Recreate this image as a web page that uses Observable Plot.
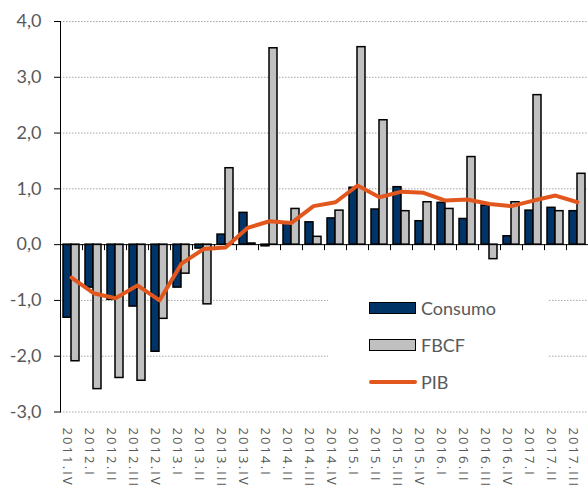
<!DOCTYPE html>
<html><head><meta charset="utf-8">
<script src="https://cdn.jsdelivr.net/npm/d3@7"></script>
<script src="https://cdn.jsdelivr.net/npm/@observablehq/plot@0.6"></script>
<style>
html,body{margin:0;padding:0;background:#fff;overflow:hidden}
#wrap{position:relative;width:588px;height:489px}
#legend{position:absolute;left:328px;top:286px;width:220px;height:118px;background:#fff;font-family:Lato,sans-serif;font-size:18px;color:#595959}
.item{position:absolute;left:41px;display:flex;align-items:center;height:20px;white-space:nowrap}
.sw{width:45px;height:10px;border:1.5px solid #000;margin-right:5px}
.ln{width:48px;height:4px;border-radius:2px;margin-right:4px}
g[aria-label="x-axis tick label"] text{letter-spacing:2.1px;font-family:"Open Sans",sans-serif}
</style></head>
<body><div id="wrap"><div id="chart"></div><div id="legend"></div></div>
<script>
const quarters = ["2011.IV","2012.I","2012.II","2012.III","2012.IV","2013.I","2013.II","2013.III","2013.IV","2014.I","2014.II","2014.III","2014.IV","2015.I","2015.II","2015.III","2015.IV","2016.I","2016.II","2016.III","2016.IV","2017.I","2017.II","2017.III"];
const consumo = [-1.31,-0.77,-0.99,-1.11,-1.92,-0.77,-0.07,0.18,0.57,-0.03,0.38,0.40,0.47,1.02,0.63,1.03,0.42,0.75,0.46,0.70,0.15,0.61,0.66,0.60];
const fbcf = [-2.09,-2.59,-2.39,-2.44,-1.33,-0.52,-1.07,1.37,0.02,3.52,0.64,0.14,0.61,3.54,2.23,0.60,0.76,0.64,1.57,-0.26,0.76,2.68,0.60,1.27];
const pib = [-0.59,-0.87,-0.96,-0.73,-1.00,-0.34,-0.08,-0.05,0.30,0.42,0.39,0.69,0.76,1.06,0.85,0.95,0.93,0.79,0.81,0.73,0.69,0.79,0.88,0.76];
const seriesNames = ["Consumo","FBCF","PIB"];
const seriesColors = ["#003366","#c0c0c0","#E2571E"];
const yTicks = [-3,-2,-1,0,1,2,3,4];

const rows = quarters.map((q,i)=>({q, consumo: consumo[i], fbcf: fbcf[i], pib: pib[i]}));
const fmt = d => d3.format(".1f")(d).replace(".",",").replace("\u2212","-");

const chart = Plot.plot({
  width:588, height:489, marginLeft:60, marginRight:0, marginTop:21, marginBottom:77.5,
  style:{fontFamily:"Lato, sans-serif", background:"#fff"},
  x:{domain:quarters, padding:0, label:null},
  y:{domain:[-3,4], label:null},
  marks:[
    Plot.ruleY(yTicks.filter(d=>d!==0), {stroke:"#a6a6a6", strokeDasharray:"1.5,1.5"}),
    Plot.barY(rows, {x:"q", y:"consumo", fill:seriesColors[0], stroke:"#000", strokeWidth:1.5, insetLeft:3, insetRight:11}),
    Plot.barY(rows, {x:"q", y:"fbcf", fill:seriesColors[1], stroke:"#000", strokeWidth:1.5, insetLeft:11, insetRight:3}),
    Plot.ruleY([0], {stroke:"#000", strokeWidth:1}),
    Plot.ruleX(quarters, {x:d=>d, y1:0, y2:0, insetBottom:-6, dx:-11, stroke:"#000"}),
    Plot.frame({anchor:"left", stroke:"#000"}),
    Plot.axisY({ticks:yTicks, tickFormat:fmt, tickSize:6, tickPadding:13, fontSize:18, stroke:"#000", fill:"#595959", label:null}),
    Plot.axisX({tickRotate:90, tickSize:0, tickPadding:15.5, fontSize:13, fill:"#595959", label:null, dx:-4}),
    Plot.lineY(rows, {x:"q", y:"pib", stroke:seriesColors[2], strokeWidth:4, strokeLinejoin:"round"})
  ]
});
document.getElementById("chart").appendChild(chart);

const legend = document.getElementById("legend");
seriesNames.forEach((name,i)=>{
  const item = document.createElement("div");
  item.className = "item";
  item.style.top = (12 + 37*i) + "px";
  const sw = document.createElement("div");
  sw.className = i < 2 ? "sw" : "ln";
  sw.style.background = seriesColors[i];
  const t = document.createElement("span");
  t.textContent = name;
  item.appendChild(sw); item.appendChild(t);
  legend.appendChild(item);
});
</script>
</body></html>
